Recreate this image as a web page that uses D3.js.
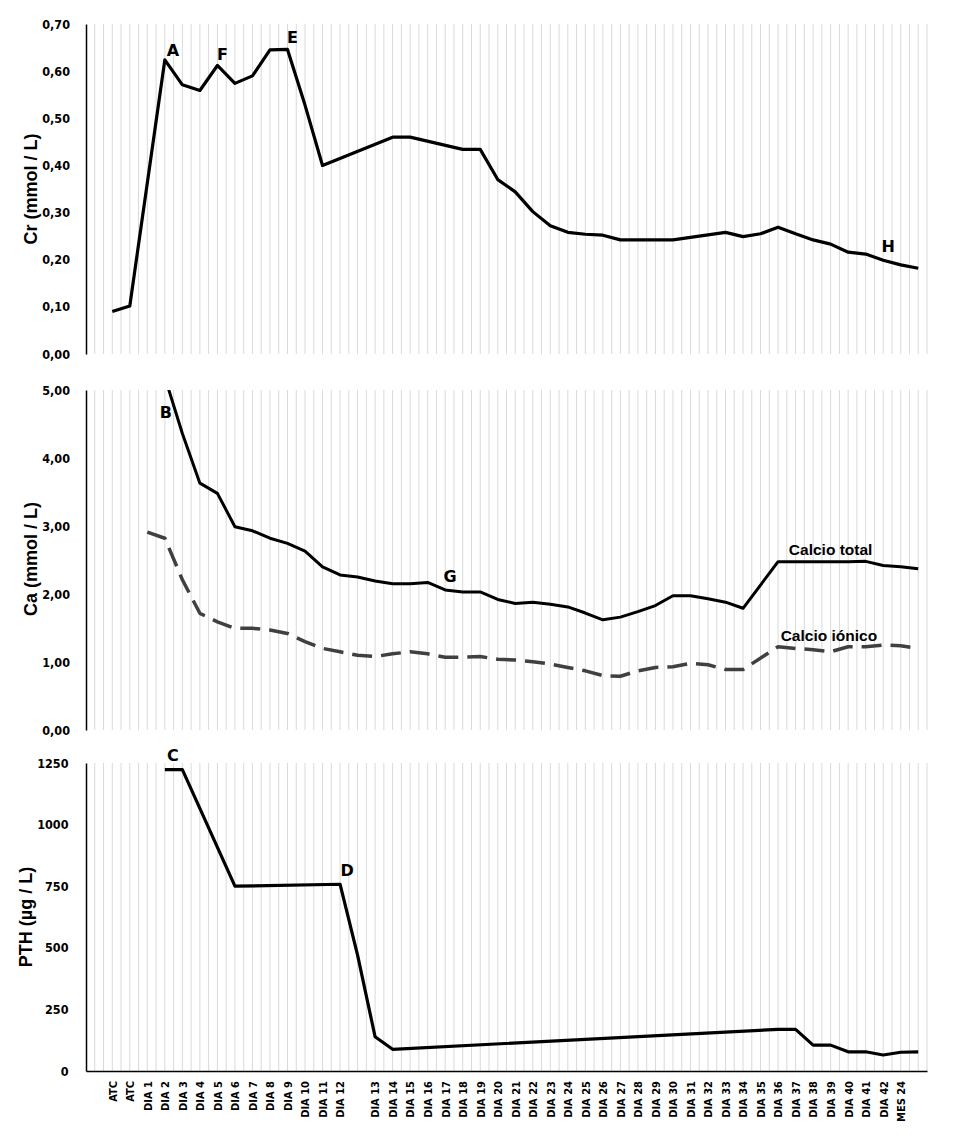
<!DOCTYPE html>
<html>
<head>
<meta charset="utf-8">
<script src="https://cdn.jsdelivr.net/npm/d3@7"></script>
<style>
  body { margin: 0; background: #fff; }
  .tick-y text { font-family: "DejaVu Sans Condensed", "DejaVu Sans", Verdana, sans-serif; font-stretch: condensed; font-weight: bold; font-size: 12.5px; fill: #000; }
  .tick-x text { font-family: "DejaVu Sans Condensed", "DejaVu Sans", Verdana, sans-serif; font-stretch: condensed; font-weight: bold; font-size: 11px; fill: #000; }
  .axis-title { font-family: "Liberation Sans", Arial, sans-serif; font-weight: bold; font-size: 18px; }
  .mark { font-family: "DejaVu Sans", Verdana, sans-serif; font-weight: bold; font-size: 16px; }
  .series-label { font-family: "Liberation Sans", Arial, sans-serif; font-weight: bold; font-size: 15.5px; }
</style>
</head>
<body>
<svg id="chart" width="955" height="1138"></svg>
<script>
// x categories (last slot carries data but no label)
const slots = ['ATC', 'ATC', 'DIA 1', 'DIA 2', 'DIA 3', 'DIA 4', 'DIA 5', 'DIA 6', 'DIA 7', 'DIA 8', 'DIA 9',
  'DIA 10', 'DIA 11', 'DIA 12', '', 'DIA 13', 'DIA 14', 'DIA 15', 'DIA 16', 'DIA 17', 'DIA 18', 'DIA 19',
  'DIA 20', 'DIA 21', 'DIA 22', 'DIA 23', 'DIA 24', 'DIA 25', 'DIA 26', 'DIA 27', 'DIA 28', 'DIA 29',
  'DIA 30', 'DIA 31', 'DIA 32', 'DIA 33', 'DIA 34', 'DIA 35', 'DIA 36', 'DIA 37', 'DIA 38', 'DIA 39',
  'DIA 40', 'DIA 41', 'DIA 42', 'MES 24', ''];

// creatinine, mmol/L
const crValues = [0.09, 0.102, null, 0.624, 0.571, 0.559, 0.612, 0.574, 0.59, 0.645, 0.646,
  0.528, 0.40, null, null, null, 0.46, 0.46, null, null, 0.434, 0.434,
  0.37, 0.344, 0.302, 0.272, 0.258, 0.254, 0.252, 0.242, 0.242, 0.242,
  0.242, null, null, 0.258, 0.249, 0.255, 0.269, 0.255, 0.242, 0.233,
  0.216, 0.212, 0.199, 0.189, 0.182];

// calcio total, mmol/L
const caTotal = [null, null, null, 5.19, 4.36, 3.63, 3.48, 2.99, 2.93, 2.82, 2.745,
  2.63, 2.40, 2.28, 2.25, 2.19, 2.15, 2.15, 2.17, 2.06, 2.03, 2.03,
  1.92, 1.86, 1.88, 1.85, 1.81, 1.72, 1.62, 1.66, 1.74, 1.83,
  1.975, 1.975, 1.93, 1.88, 1.79, null, 2.475, 2.475, 2.475, 2.475,
  2.475, 2.48, 2.42, 2.40, 2.37];

// calcio iónico, mmol/L
const caIonic = [null, null, 2.91, 2.82, 2.21, 1.716, 1.59, 1.495, 1.495, 1.47, 1.42,
  1.30, 1.20, 1.15, 1.10, 1.08, 1.12, 1.15, 1.12, 1.07, 1.07, 1.08,
  1.04, 1.03, 1.005, 0.97, 0.92, 0.87, 0.80, 0.79, 0.87, 0.92,
  0.93, 0.98, 0.96, 0.89, 0.89, null, 1.225, 1.20, 1.18, 1.15,
  1.225, 1.225, 1.25, 1.24, 1.20];

// PTH, µg/L
const pthValues = [null, null, null, 1223, 1223, null, null, 750, null, null, null,
  null, null, 758, 470, 139, 88, null, null, null, null, null,
  null, null, null, null, null, null, null, null, null, null,
  null, null, null, null, null, null, 169, 169, 105, 105,
  78, 78, 65, 76, 78];

const crTicks = [0, 0.1, 0.2, 0.3, 0.4, 0.5, 0.6, 0.7];
const caTicks = [0, 1, 2, 3, 4, 5];
const pthTicks = [0, 250, 500, 750, 1000, 1250];

const svg = d3.select('#chart');
const left = 86, right = 927;
const x = d3.scaleLinear().domain([-1.5, slots.length - 0.5]).range([left, right]);
const comma = d3.formatLocale({ decimal: ',', thousands: '.', grouping: [3], currency: ['', ''] });

function toPoints(vals) {
  return vals.map((v, i) => ({ i: i, v: v })).filter(d => d.v !== null);
}

function panel(cfg) {
  const y = d3.scaleLinear().domain(cfg.domain).range([cfg.bottom, cfg.top]);
  const g = svg.append('g');

  // vertical gridlines at every half slot
  g.append('g').selectAll('line')
    .data(d3.range(-1, slots.length - 0.49, 0.5))
    .enter().append('line')
    .attr('x1', d => x(d)).attr('x2', d => x(d))
    .attr('y1', cfg.top).attr('y2', cfg.bottom)
    .attr('stroke', '#d9d9d9').attr('stroke-width', 1);

  const yAxis = d3.axisLeft(y).tickValues(cfg.ticks).tickFormat(cfg.format)
    .tickSize(0).tickSizeOuter(0).tickPadding(cfg.pad);
  const ya = g.append('g').attr('class', 'tick-y')
    .attr('transform', `translate(${left},0)`).call(yAxis);
  ya.select('.domain').attr('stroke', '#000').attr('stroke-width', 1.5);

  g.append('text').attr('class', 'axis-title')
    .attr('transform', `translate(${cfg.titleX},${cfg.titleY}) rotate(-90)`)
    .attr('text-anchor', 'middle').text(cfg.title);

  const clipId = 'clip' + cfg.top;
  svg.append('clipPath').attr('id', clipId).append('rect')
    .attr('x', left).attr('y', cfg.top).attr('width', right - left).attr('height', cfg.bottom - cfg.top);

  const line = d3.line().x(d => x(d.i)).y(d => y(d.v));
  cfg.series.forEach(s => {
    g.append('path')
      .datum(toPoints(s.values))
      .attr('clip-path', `url(#${clipId})`)
      .attr('fill', 'none')
      .attr('stroke', s.color)
      .attr('stroke-width', s.width)
      .attr('stroke-dasharray', s.dash || null)
      .attr('stroke-linejoin', 'round')
      .attr('d', line);
  });
  return { g: g, y: y };
}

const cr = panel({ top: 24, bottom: 354, domain: [0, 0.7], ticks: crTicks, format: comma.format('.2f'), pad: 16,
  title: 'Cr (mmol / L)', titleX: 36.5, titleY: 189,
  series: [{ values: crValues, color: '#000', width: 3.2 }] });

const ca = panel({ top: 390, bottom: 730, domain: [0, 5], ticks: caTicks, format: comma.format('.2f'), pad: 16,
  title: 'Ca (mmol / L)', titleX: 36.5, titleY: 559,
  series: [
    { values: caTotal, color: '#000', width: 3 },
    { values: caIonic, color: '#404040', width: 3.5, dash: '20,9' }
  ] });

const pth = panel({ top: 763, bottom: 1071, domain: [0, 1250], ticks: pthTicks, format: d3.format('d'), pad: 17.5,
  title: 'PTH (µg / L)', titleX: 32, titleY: 917,
  series: [{ values: pthValues, color: '#000', width: 3.2 }] });

// category axis under the bottom panel
const xa = svg.append('g').attr('class', 'tick-x')
  .attr('transform', 'translate(0,1071)')
  .call(d3.axisBottom(x).tickValues(d3.range(slots.length)).tickFormat(i => slots[i])
    .tickSize(0).tickSizeOuter(0));
xa.select('.domain').attr('stroke', '#000').attr('stroke-width', 1.5);
xa.selectAll('.tick text')
  .attr('transform', 'rotate(-90)')
  .attr('x', -10).attr('y', 0).attr('dy', '0.35em')
  .style('text-anchor', 'end');

// point letters
function mark(p, i, v, dx, dy, txt) {
  p.g.append('text').attr('class', 'mark')
    .attr('x', x(i) + dx).attr('y', p.y(v) + dy)
    .attr('text-anchor', 'middle').text(txt);
}
mark(cr, 3, crValues[3], 8, -4, 'A');
mark(cr, 6, crValues[6], 5, -5, 'F');
mark(cr, 10, crValues[10], 5, -6, 'E');
mark(cr, 44, crValues[44], 5, -8, 'H');
mark(ca, 3, 5, 1, 28, 'B');
mark(ca, 19, caTotal[19], 5, -8, 'G');
mark(pth, 3, pthValues[3], 8, -9, 'C');
mark(pth, 13, pthValues[13], 7, -8, 'D');

ca.g.append('text').attr('class', 'series-label')
  .attr('x', x(41)).attr('y', ca.y(caTotal[41]) - 7)
  .attr('text-anchor', 'middle').text('Calcio total');
ca.g.append('text').attr('class', 'series-label')
  .attr('x', x(40.9)).attr('y', ca.y(caIonic[41]) - 11)
  .attr('text-anchor', 'middle').text('Calcio iónico');
</script>
</body>
</html>
